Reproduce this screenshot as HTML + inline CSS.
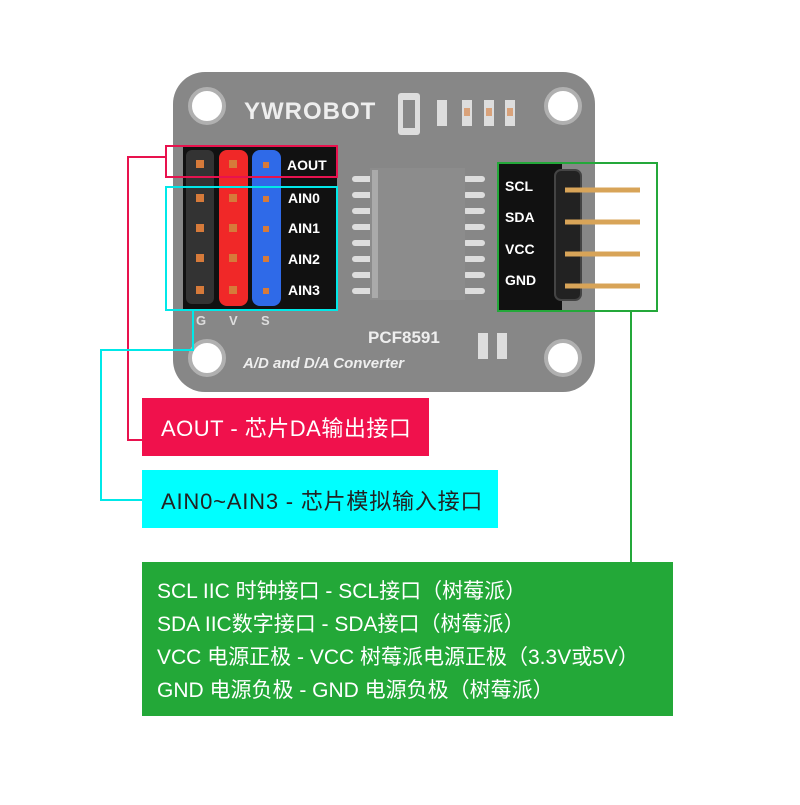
<!DOCTYPE html>
<html><head><meta charset="utf-8"><style>
body{margin:0;background:#fff;}
.f{font-family:"Liberation Sans","Noto Sans CJK SC",sans-serif;}
</style></head><body>
<svg width="800" height="800" xmlns="http://www.w3.org/2000/svg" class="f">
<rect width="800" height="800" fill="#fff"/>
<rect x="173" y="72" width="422" height="320" rx="32" fill="#878787"/>
<g fill="#fff" stroke="#b0b0b0" stroke-width="4">
<circle cx="207" cy="106" r="17"/><circle cx="563" cy="106" r="17"/>
<circle cx="207" cy="358" r="17"/><circle cx="563" cy="358" r="17"/>
</g>
<text x="244" y="119" font-size="24" font-weight="bold" fill="#eee" letter-spacing="1">YWROBOT</text>
<rect x="398" y="93" width="22" height="42" rx="3" fill="#ddd"/><rect x="403" y="100" width="12" height="28" fill="#888"/>
<g fill="#ddd"><rect x="437" y="100" width="10" height="26"/><rect x="462" y="100" width="10" height="26"/><rect x="484" y="100" width="10" height="26"/><rect x="505" y="100" width="10" height="26"/></g>
<g fill="#d9a27a"><rect x="464" y="108" width="6" height="8"/><rect x="486" y="108" width="6" height="8"/><rect x="507" y="108" width="6" height="8"/></g>
<g fill="#ddd">
<rect x="352" y="176" width="22" height="6" rx="3"/><rect x="352" y="192" width="22" height="6" rx="3"/><rect x="352" y="208" width="22" height="6" rx="3"/><rect x="352" y="224" width="22" height="6" rx="3"/><rect x="352" y="240" width="22" height="6" rx="3"/><rect x="352" y="256" width="22" height="6" rx="3"/><rect x="352" y="272" width="22" height="6" rx="3"/><rect x="352" y="288" width="22" height="6" rx="3"/>
<rect x="463" y="176" width="22" height="6" rx="3"/><rect x="463" y="192" width="22" height="6" rx="3"/><rect x="463" y="208" width="22" height="6" rx="3"/><rect x="463" y="224" width="22" height="6" rx="3"/><rect x="463" y="240" width="22" height="6" rx="3"/><rect x="463" y="256" width="22" height="6" rx="3"/><rect x="463" y="272" width="22" height="6" rx="3"/><rect x="463" y="288" width="22" height="6" rx="3"/>
</g>
<rect x="370" y="168" width="95" height="132" fill="#8c8c8c"/>
<rect x="372" y="170" width="6" height="128" fill="#aaa"/>
<rect x="183" y="145" width="154" height="164" fill="#111"/>
<g>
<rect x="186" y="150" width="28" height="154" rx="6" fill="#333"/>
<rect x="219" y="150" width="29" height="156" rx="8" fill="#f02828"/>
<rect x="252" y="150" width="29" height="156" rx="8" fill="#2f6ae8"/>
</g>
<g fill="#d67a3a">
<rect x="196" y="160" width="8" height="8"/><rect x="196" y="194" width="8" height="8"/><rect x="196" y="224" width="8" height="8"/><rect x="196" y="254" width="8" height="8"/><rect x="196" y="286" width="8" height="8"/>
<rect x="229" y="160" width="8" height="8"/><rect x="229" y="194" width="8" height="8"/><rect x="229" y="224" width="8" height="8"/><rect x="229" y="254" width="8" height="8"/><rect x="229" y="286" width="8" height="8"/>
<rect x="263" y="162" width="6" height="6"/><rect x="263" y="196" width="6" height="6"/><rect x="263" y="226" width="6" height="6"/><rect x="263" y="256" width="6" height="6"/><rect x="263" y="288" width="6" height="6"/>
</g>
<g font-size="14" font-weight="bold" fill="#fff">
<text x="287" y="170">AOUT</text><text x="288" y="203">AIN0</text><text x="288" y="233">AIN1</text><text x="288" y="264">AIN2</text><text x="288" y="295">AIN3</text>
</g>
<g font-size="13" font-weight="bold" fill="#ddd"><text x="196" y="325">G</text><text x="229" y="325">V</text><text x="261" y="325">S</text></g>
<text x="368" y="343" font-size="17" font-weight="bold" fill="#eee">PCF8591</text>
<text x="243" y="368" font-size="15" font-weight="bold" font-style="italic" fill="#eee">A/D and D/A Converter</text>
<g fill="#ddd"><rect x="478" y="333" width="10" height="26"/><rect x="497" y="333" width="10" height="26"/></g>
<rect x="497" y="163" width="65" height="148" fill="#111"/>
<rect x="555" y="170" width="26" height="130" rx="6" fill="#222" stroke="#444" stroke-width="2"/>
<g stroke="#d8a458" stroke-width="5">
<line x1="565" y1="190" x2="640" y2="190"/><line x1="565" y1="222" x2="640" y2="222"/><line x1="565" y1="254" x2="640" y2="254"/><line x1="565" y1="286" x2="640" y2="286"/>
</g>
<g font-size="14" font-weight="bold" fill="#fff">
<text x="505" y="191">SCL</text><text x="505" y="222">SDA</text><text x="505" y="254">VCC</text><text x="505" y="285">GND</text>
</g>
<rect x="166" y="146" width="171" height="31" fill="none" stroke="#e8124e" stroke-width="2"/>
<rect x="166" y="187" width="171" height="123" fill="none" stroke="#00e8e8" stroke-width="2"/>
<rect x="498" y="163" width="159" height="148" fill="none" stroke="#24a83a" stroke-width="2"/>
<polyline points="166,157 128,157 128,440 143,440" fill="none" stroke="#e8124e" stroke-width="2"/>
<polyline points="193,310 193,350 101,350 101,500 143,500" fill="none" stroke="#00e8e8" stroke-width="2"/>
<polyline points="631,311 631,562" fill="none" stroke="#24a83a" stroke-width="2"/>
<rect x="142" y="398" width="287" height="58" fill="#f0114c"/>
<text x="161" y="436" font-size="22" fill="#fff" letter-spacing="0.5">AOUT -  芯片DA输出接口</text>
<rect x="142" y="470" width="356" height="58" fill="#00ffff"/>
<text x="161" y="509" font-size="22" fill="#222" letter-spacing="0.8">AIN0~AIN3 -  芯片模拟输入接口</text>
<rect x="142" y="562" width="531" height="154" fill="#23a838"/>
<g font-size="21" fill="#fff">
<text x="157" y="598">SCL IIC 时钟接口 - SCL接口（树莓派）</text>
<text x="157" y="631">SDA IIC数字接口 - SDA接口（树莓派）</text>
<text x="157" y="664">VCC 电源正极 - VCC 树莓派电源正极（3.3V或5V）</text>
<text x="157" y="697">GND 电源负极 - GND 电源负极（树莓派）</text>
</g>
</svg>
</body></html>
